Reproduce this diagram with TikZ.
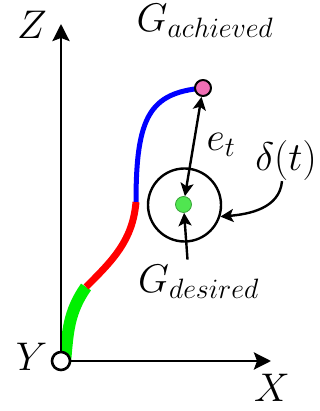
\documentclass[tikz,border=0pt]{standalone}
\usepackage{fix-cm}
\usetikzlibrary{arrows.meta}
\definecolor{pinkgoal}{RGB}{240,110,180}
\definecolor{greengoal}{RGB}{80,230,80}
\definecolor{greenpath}{RGB}{0,240,0}
\tikzset{
  lbl/.style={inner sep=0pt},
  pt/.style={circle,draw,inner sep=0pt,line width=2pt,minimum size=16pt},
  seg/.style={line cap=butt},
  axis/.style={line width=2.8pt,-{Stealth[length=17pt,width=17pt,inset=3pt]}}
}
\begin{document}
\begin{tikzpicture}[x=1pt,y=1pt,line join=round,font=\fontsize{40}{44}\selectfont,>={Stealth[length=13pt,width=13pt,inset=3pt]}]
	\useasboundingbox (0,0) rectangle (320,411);
	\coordinate (A) at (203,323);
	\draw[seg,greenpath,line width=12pt] (65,48) to[out=85,in=235] (86,124);
	\draw[seg,red,line width=7pt] (86,124) to[out=45,in=265] (136,209);
	\draw[seg,blue,line width=5pt] (136,209) .. controls (136,295) and (150,318) .. (A);
	\node[pt,fill=white,line width=2.6pt,minimum size=18pt] (O) at (61,50) {};
	\coordinate (Ztip) at (61,387);
	\coordinate (Xtip) at (271,50);
	\draw[axis] (O) -- (Ztip);
	\draw[axis] (O) -- (Xtip);
	\node[lbl] (zl) at (32,386) {$Z$};
	\node[lbl] (yl) at (31.5,54.5) {$Y$};
	\node[lbl] (xl) at (272,23.5) {$X$};
	\node[lbl] (gal) at (205,390) {$G_{achieved}$};
	\node[lbl] (etl) at (221,266) {$e_t$};
	\node[lbl] (dl) at (286,250) {$\delta(t)$};
	\node[lbl] (gdl) at (198.5,129.5) {$G_{desired}$};
	\node[pt,fill=pinkgoal] (ach) at (A) {};
	\node[circle,draw,line width=2.4pt,minimum size=73pt,inner sep=0pt] (tol) at (184.5,206) {};
	\node[pt,fill=greengoal,draw=greengoal!70!black,line width=0.8pt] (des) at (183.5,206.5) {};
	\draw[<->,line width=2.4pt] (ach) -- (des);
	\draw[->,line width=2.4pt] ([xshift=-11pt,yshift=5pt]gdl.north) -- (des);
	\draw[->,line width=2.4pt] ([xshift=-4pt]dl.south) to[out=-95,in=5] (tol.-18);
\end{tikzpicture}
\end{document}
